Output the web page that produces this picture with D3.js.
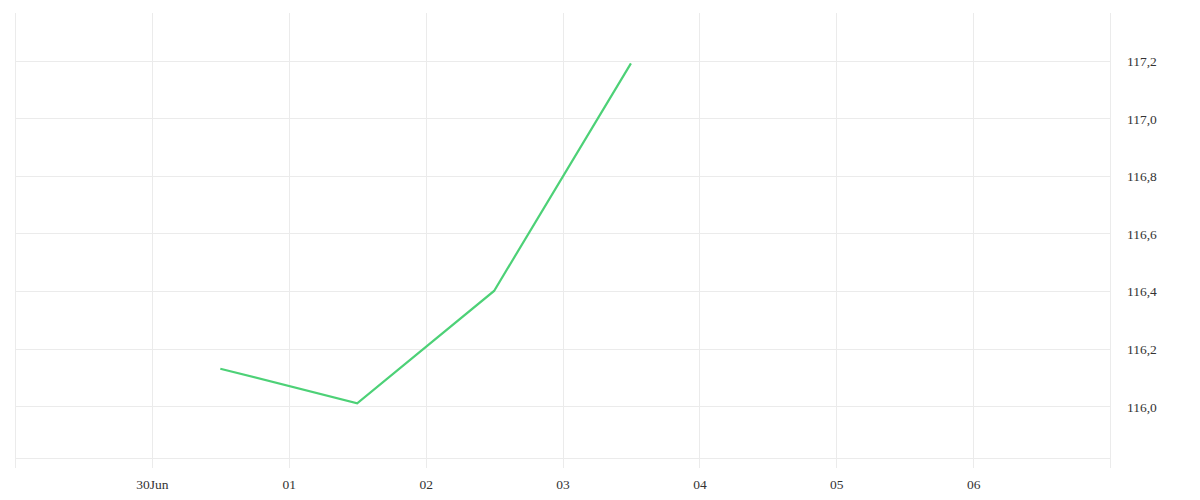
<!DOCTYPE html>
<html>
<head>
<meta charset="utf-8">
<script src="https://cdn.jsdelivr.net/npm/d3@7"></script>
<style>
  html, body { margin: 0; padding: 0; background: #fff; }
  .tick text { font-family: "Liberation Serif", serif; font-size: 13.5px; fill: #333; }
</style>
</head>
<body>
<div id="chart"></div>
<script>
// series, one point per day (plotted at noon)
var dates = ["2024-06-30T12:00", "2024-07-01T12:00", "2024-07-02T12:00", "2024-07-03T12:00"];
var values = [116.13, 116.01, 116.40, 117.19];

// axis ticks
var xTickDates = ["2024-06-29", "2024-06-30", "2024-07-01", "2024-07-02", "2024-07-03", "2024-07-04", "2024-07-05", "2024-07-06", "2024-07-07"];
var xTickLabels = ["", "30Jun", "01", "02", "03", "04", "05", "06", ""];
var yTicks = [116.0, 116.2, 116.4, 116.6, 116.8, 117.0, 117.2];
var yDomain = [115.82, 117.365];

var width = 1200, height = 500;
var plotLeft = 15, plotRight = 1110, plotTop = 13, plotBottom = 458;

var parse = d3.timeParse("%Y-%m-%dT%H:%M");
var parseDay = d3.timeParse("%Y-%m-%d");
var data = dates.map(function (d, i) { return {date: parse(d), value: values[i]}; });
var xTicks = xTickDates.map(parseDay);

var locale = d3.formatLocale({decimal: ",", thousands: ".", grouping: [3], currency: ["", "€"]});
var fmt = locale.format(".1f");

const svg = d3.select("#chart").append("svg")
  .attr("width", width)
  .attr("height", height);

var x = d3.scaleTime()
  .domain([xTicks[0], xTicks[xTicks.length - 1]])
  .range([plotLeft, plotRight]);
var y = d3.scaleLinear()
  .domain(yDomain)
  .range([plotBottom, plotTop]);

// horizontal grid + bottom line
svg.append("g").selectAll("line")
  .data(yTicks.concat([yDomain[0]]))
  .enter().append("line")
  .attr("x1", plotLeft).attr("x2", plotRight)
  .attr("y1", function (d) { return Math.round(y(d)) + 0.5; })
  .attr("y2", function (d) { return Math.round(y(d)) + 0.5; })
  .attr("stroke", "#ebebeb");

// vertical grid (runs a little below the plot like a tick)
svg.append("g").selectAll("line")
  .data(xTicks)
  .enter().append("line")
  .attr("x1", function (d) { return Math.round(x(d)) + 0.5; })
  .attr("x2", function (d) { return Math.round(x(d)) + 0.5; })
  .attr("y1", plotTop).attr("y2", plotBottom + 10)
  .attr("stroke", "#ebebeb");

// x axis labels
var xAxis = d3.axisBottom(x)
  .tickValues(xTicks)
  .tickSize(0)
  .tickPadding(0)
  .tickFormat(function (d, i) { return xTickLabels[i]; });
var gx = svg.append("g")
  .attr("transform", "translate(0," + (plotBottom + 21) + ")")
  .call(xAxis);
gx.select(".domain").remove();

// y axis on the right
var yAxis = d3.axisRight(y)
  .tickValues(yTicks)
  .tickSize(0)
  .tickPadding(17)
  .tickFormat(fmt);
var gy = svg.append("g")
  .attr("transform", "translate(" + plotRight + ",0)")
  .call(yAxis);
gy.select(".domain").remove();
gy.selectAll(".tick text").attr("dy", "0.36em");

// line
var line = d3.line()
  .x(function (d) { return x(d.date); })
  .y(function (d) { return y(d.value); });

svg.append("path")
  .datum(data)
  .attr("d", line)
  .attr("fill", "none")
  .attr("stroke", "#4dd177")
  .attr("stroke-width", 2.2)
  .attr("stroke-linejoin", "miter");
</script>
</body>
</html>
